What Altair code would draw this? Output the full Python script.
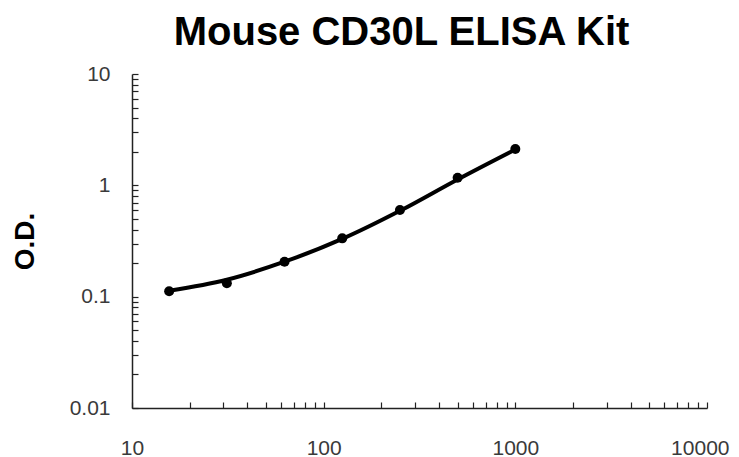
import altair as alt
import pandas as pd

conc = [15.625, 31.25, 62.5, 125, 250, 500, 1000]
od = [0.112, 0.132, 0.206, 0.334, 0.60, 1.17, 2.12]
curve_od = [0.113, 0.142, 0.206, 0.330, 0.59, 1.13, 2.10]

x_ticks = [10, 20, 30, 40, 50, 60, 70, 80, 90,
           100, 200, 300, 400, 500, 600, 700, 800, 900,
           1000, 2000, 3000, 4000, 5000, 6000, 7000, 8000, 9000, 10000]
y_ticks = [0.01, 0.02, 0.03, 0.04, 0.05, 0.06, 0.07, 0.08, 0.09,
           0.1, 0.2, 0.3, 0.4, 0.5, 0.6, 0.7, 0.8, 0.9,
           1, 2, 3, 4, 5, 6, 7, 8, 9, 10]

pts = pd.DataFrame({"conc": conc, "od": od})
crv = pd.DataFrame({"conc": conc, "od": curve_od})

decade = "abs(log(datum.value)/LN10 - round(log(datum.value)/LN10)) < 1e-6 ? datum.label : ''"
last_x = "datum.value >= 9999"

x_enc = alt.X("conc:Q",
              scale=alt.Scale(type="log", domain=[10, 10000], nice=False),
              axis=alt.Axis(values=x_ticks, format="~g", labelExpr=decade,
                            labelOverlap=False, labelFlush=False, grid=False, title=None,
                            tickSize=alt.ExprRef("-6"), labelPadding=35,
                            labelFontSize=21, labelFont="Liberation Sans",
                            labelColor="#3a3a3a", labelBaseline="top",
                            labelAlign={"condition": {"test": last_x, "value": "right"},
                                        "value": "center"},
                            labelOffset={"condition": {"test": last_x, "value": 22},
                                         "value": 0},
                            domainColor="#222222", domainWidth=1.5,
                            tickColor="#222222", tickWidth=1.2))
y_enc = alt.Y("od:Q",
              scale=alt.Scale(type="log", domain=[0.01, 10], nice=False),
              axis=alt.Axis(values=y_ticks, format="~g", labelExpr=decade,
                            labelOverlap=False, labelFlush=False, grid=False, title="O.D.",
                            tickSize=alt.ExprRef("-6"), labelPadding=28,
                            labelFontSize=21, labelFont="Liberation Sans",
                            labelColor="#3a3a3a",
                            domainColor="#222222", domainWidth=1.5,
                            tickColor="#222222", tickWidth=1.2,
                            titleFont="Liberation Sans", titleFontSize=28,
                            titleFontWeight="bold", titleColor="#000000",
                            titleX=-107, titleY=167, titleAngle=270,
                            titleAlign="center", titleBaseline="middle"))

line = alt.Chart(crv).mark_line(color="black", strokeWidth=4,
                                interpolate="monotone").encode(x=x_enc, y=y_enc)
dots = alt.Chart(pts).mark_circle(color="black", opacity=1, size=100).encode(
    x="conc:Q", y="od:Q")

chart = alt.layer(line, dots).properties(
    width=575, height=334,
    autosize=alt.AutoSizeParams(type="none"),
    padding={"left": 124, "top": 66, "right": 24, "bottom": 49},
    title=alt.TitleParams("Mouse CD30L ELISA Kit", font="Liberation Sans",
                          fontSize=40, fontWeight="bold", color="#000000",
                          anchor="middle", dx=-18, offset=10),
).configure_view(stroke=None)

chart.save("out.html", embed_options={"renderer": "svg", "actions": False})
